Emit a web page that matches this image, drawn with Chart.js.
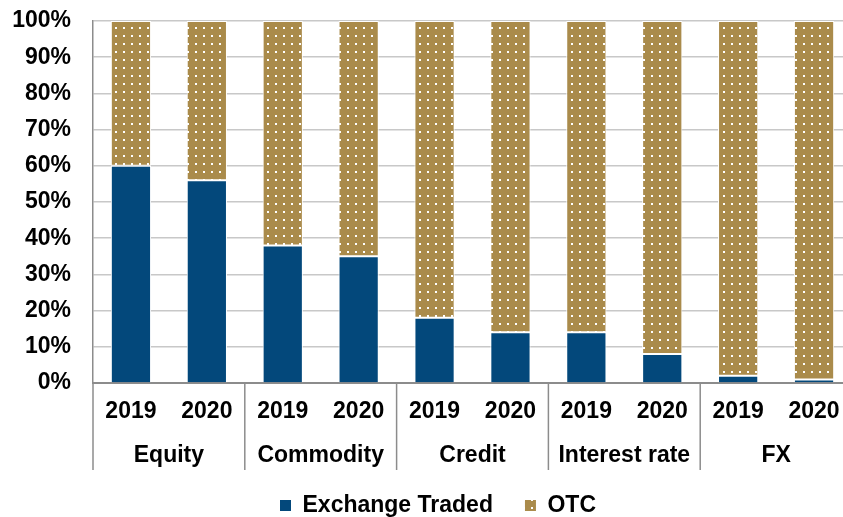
<!DOCTYPE html>
<html>
<head>
<meta charset="utf-8">
<script src="https://cdn.jsdelivr.net/npm/chart.js@4"></script>
<style>
  html, body { margin: 0; padding: 0; background: #fff; overflow: hidden; }
  #wrap { width: 884px; height: 517px; }
</style>
</head>
<body>
<div id="wrap"><canvas id="ShareChart" width="884" height="517"></canvas></div>
<script>
(function () {
  "use strict";

  // Data
  const years          = ['2019', '2020', '2019', '2020', '2019', '2020', '2019', '2020', '2019', '2020'];
  const groups         = ['Equity', 'Commodity', 'Credit', 'Interest rate', 'FX'];
  const exchangeTraded = [60, 56, 38, 35, 18, 14, 14, 8, 2, 1];
  const otc            = [40, 44, 62, 65, 82, 86, 86, 92, 98, 99];
  const yTicks         = [0, 10, 20, 30, 40, 50, 60, 70, 80, 90, 100];

  // Colors
  const blue_900  = '#03487b';
  const gold_500  = '#aa8b4b';
  const grid_gray = '#c8c8c8';
  const axis_gray = '#8c8c8c';
  const font_family = '"Liberation Sans", Arial, sans-serif';
  const font_size = 23;

  // Dotted gold fill for the OTC bars
  function dotPattern() {
    const tile = document.createElement('canvas');
    tile.width = 8;
    tile.height = 8;
    const t = tile.getContext('2d');
    t.fillStyle = gold_500;
    t.fillRect(0, 0, 8, 8);
    t.fillStyle = '#ffffff';
    t.fillRect(3, 3, 2, 2);
    return t.createPattern(tile, 'repeat');
  }

  // Group names under the years, with separators between groups
  const groupLabels = {
    id: 'groupLabels',
    afterLayout(chart) {
      // nudge the legend a little right and up
      const lg = chart.legend;
      if (lg) {
        lg.left += 12;
        lg.right += 12;
        lg.top -= 9;
      }
    },
    afterDraw(chart) {
      const ctx = chart.ctx;
      const x = chart.scales.x;
      const area = chart.chartArea;
      const per = years.length / groups.length;
      const step = x.getPixelForValue(1) - x.getPixelForValue(0);
      ctx.save();
      ctx.strokeStyle = axis_gray;
      ctx.lineWidth = 1.5;
      for (let g = 0; g <= groups.length; g++) {
        const bx = x.getPixelForValue(g * per) - step / 2;
        ctx.beginPath();
        ctx.moveTo(bx, area.bottom);
        ctx.lineTo(bx, area.bottom + 87);
        ctx.stroke();
      }
      ctx.fillStyle = '#000';
      ctx.font = 'bold ' + font_size + 'px ' + font_family;
      ctx.textAlign = 'center';
      ctx.textBaseline = 'alphabetic';
      groups.forEach(function (name, g) {
        const cx = (x.getPixelForValue(g * per) + x.getPixelForValue(g * per + per - 1)) / 2;
        ctx.fillText(name, cx, area.bottom + 79);
      });
      ctx.restore();
    }
  };

  const pattern = dotPattern();
  const ctb = document.getElementById('ShareChart').getContext('2d');

  new Chart(ctb, {
    type: 'bar',
    data: {
      labels: years,
      datasets: [{
        label: 'Exchange Traded',
        data: exchangeTraded,
        backgroundColor: blue_900,
        borderColor: '#ffffff',
        borderWidth: 1,
        borderSkipped: 'start'
      },
      {
        label: 'OTC',
        data: otc,
        backgroundColor: pattern,
        borderColor: '#ffffff',
        borderWidth: 1,
        borderSkipped: false
      }]
    },
    options: {
      responsive: false,
      animation: false,
      devicePixelRatio: 1,
      layout: {
        padding: { top: 0, left: 0, right: 32, bottom: 0 }
      },
      datasets: {
        bar: { barPercentage: 0.53, categoryPercentage: 1 }
      },
      scales: {
        x: {
          stacked: true,
          grid: { display: false, drawTicks: false },
          border: { color: axis_gray, width: 2 },
          ticks: {
            color: '#000',
            padding: 15,
            maxRotation: 0,
            autoSkip: false,
            font: { family: font_family, size: font_size, weight: 'bold' }
          },
          afterFit(scale) { scale.height = 88; }
        },
        y: {
          stacked: true,
          min: 0,
          max: 100,
          afterBuildTicks(scale) {
            scale.ticks = yTicks.map(function (v) { return { value: v }; });
          },
          afterFit(scale) {
            scale.width = 93;
            scale.paddingTop = 21;
          },
          grid: {
            drawTicks: false,
            color: function (c) { return c.tick && c.tick.value === 0 ? 'rgba(0,0,0,0)' : grid_gray; },
            lineWidth: 1.5
          },
          border: { color: axis_gray, width: 1.5 },
          ticks: {
            color: '#000',
            padding: 22,
            font: { family: font_family, size: font_size, weight: 'bold' },
            callback: function (v) { return v + '%'; }
          }
        }
      },
      plugins: {
        tooltip: { enabled: false },
        legend: {
          display: true,
          position: 'bottom',
          maxHeight: 46,
          labels: {
            color: '#000',
            boxWidth: 11,
            boxHeight: 11,
            padding: 32,
            font: { family: font_family, size: font_size, weight: 'bold' },
            generateLabels: function (chart) {
              return chart.data.datasets.map(function (ds, i) {
                return {
                  text: ds.label,
                  fillStyle: ds.backgroundColor,
                  strokeStyle: 'rgba(0,0,0,0)',
                  lineWidth: 0,
                  fontColor: '#000',
                  datasetIndex: i
                };
              });
            }
          }
        }
      }
    },
    plugins: [groupLabels]
  });
})();
</script>
</body>
</html>
